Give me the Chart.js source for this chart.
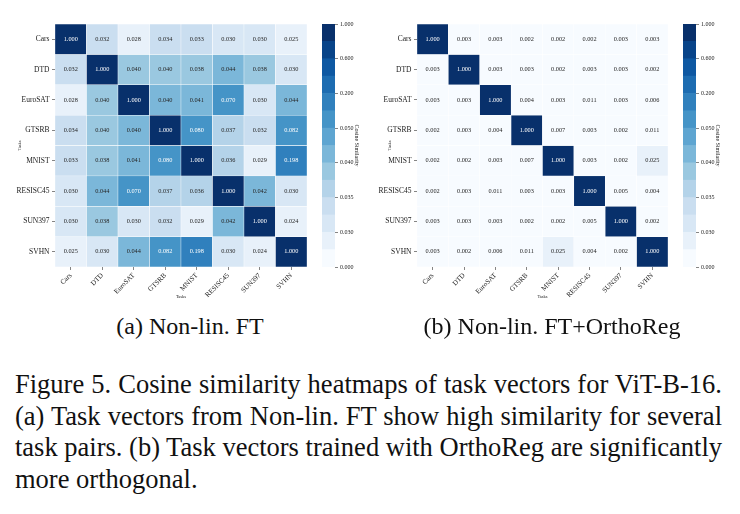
<!DOCTYPE html>
<html>
<head>
<meta charset="utf-8">
<script src="https://cdn.jsdelivr.net/npm/chart.js@4.4.1/dist/chart.umd.min.js"></script>
<style>
  html, body { margin: 0; padding: 0; background: #fff; }
  body { width: 740px; height: 514px; position: relative; overflow: hidden; font-family: 'Liberation Serif', 'Times New Roman', serif; color: #111; }
  canvas { position: absolute; top: 0; }
  .sub { position: absolute; top: 311px; font-size: 24px; line-height: 30px; white-space: nowrap; transform: translateX(-50%); }
  #caption { position: absolute; left: 15px; top: 369px; width: 707px; font-size: 26.5px; line-height: 31.5px; }
  #caption div { text-align: justify; text-align-last: justify; white-space: nowrap; }
  #caption div.last { text-align: left; text-align-last: left; }
</style>
</head>
<body>
<canvas id="heatA" width="320" height="310" style="left:0"></canvas>
<canvas id="barA" width="55" height="310" style="left:315px"></canvas>
<canvas id="heatB" width="310" height="310" style="left:370px"></canvas>
<canvas id="barB" width="64" height="310" style="left:676px"></canvas>
<div class="sub" style="left:190px">(a) Non-lin. FT</div>
<div class="sub" style="left:552px">(b) Non-lin. FT+OrthoReg</div>
<div id="caption">
  <div>Figure 5. Cosine similarity heatmaps of task vectors for ViT-B-16.</div>
  <div>(a) Task vectors from Non-lin. FT show high similarity for several</div>
  <div>task pairs. (b) Task vectors trained with OrthoReg are significantly</div>
  <div class="last">more orthogonal.</div>
</div>
<script>
const tasks = ['Cars', 'DTD', 'EuroSAT', 'GTSRB', 'MNIST', 'RESISC45', 'SUN397', 'SVHN'];

// (a) Non-lin. FT
const simNonLin = [
  [1.000, 0.032, 0.028, 0.034, 0.033, 0.030, 0.030, 0.025],
  [0.032, 1.000, 0.0398, 0.0398, 0.038, 0.044, 0.038, 0.030],
  [0.028, 0.0398, 1.000, 0.0403, 0.041, 0.070, 0.030, 0.044],
  [0.034, 0.0398, 0.0403, 1.000, 0.080, 0.037, 0.032, 0.082],
  [0.033, 0.038, 0.041, 0.080, 1.000, 0.036, 0.029, 0.198],
  [0.030, 0.044, 0.070, 0.037, 0.036, 1.000, 0.042, 0.030],
  [0.030, 0.038, 0.030, 0.032, 0.029, 0.042, 1.000, 0.024],
  [0.025, 0.030, 0.044, 0.082, 0.198, 0.030, 0.024, 1.000]
];

// (b) Non-lin. FT+OrthoReg
const simOrtho = [
  [1.000, 0.003, 0.003, 0.002, 0.002, 0.002, 0.003, 0.003],
  [0.003, 1.000, 0.003, 0.003, 0.002, 0.003, 0.003, 0.002],
  [0.003, 0.003, 1.000, 0.004, 0.003, 0.011, 0.003, 0.006],
  [0.002, 0.003, 0.004, 1.000, 0.007, 0.003, 0.002, 0.011],
  [0.002, 0.002, 0.003, 0.007, 1.000, 0.003, 0.002, 0.025],
  [0.002, 0.003, 0.011, 0.003, 0.003, 1.000, 0.005, 0.004],
  [0.003, 0.003, 0.003, 0.002, 0.002, 0.005, 1.000, 0.002],
  [0.003, 0.002, 0.006, 0.011, 0.025, 0.004, 0.002, 1.000]
];

// colour bin edges of the colorbar (every other one is labelled)
const cbarBounds = [0, 0.015, 0.030, 0.031, 0.035, 0.0375, 0.040, 0.045, 0.050, 0.125, 0.200, 0.400, 0.600, 0.800, 1.000];

// Blues, one colour per bin
const blues = [
  '#f7fbff', '#e8f1fa', '#d8e7f5', '#cadef0', '#b4d3e9', '#9ac8e0', '#7bb7d9',
  '#5ea5d1', '#4594c7', '#3080bd', '#1d6cb1', '#0e58a2', '#084489', '#08306b'
];

const serif = "'Liberation Serif', 'Times New Roman', serif";
const ink = '#1a1a1a';

const binOf = (v) => {
  for (let i = cbarBounds.length - 2; i >= 0; i--) {
    if (v >= cbarBounds[i]) return i;
  }
  return 0;
};

const cellText = {
  id: 'cellText',
  afterDatasetsDraw(chart, args, opts) {
    const { ctx } = chart;
    ctx.save();
    ctx.font = '6.3px ' + serif;
    ctx.textAlign = 'center';
    ctx.textBaseline = 'middle';
    opts.matrix.forEach((row, r) => {
      const meta = chart.getDatasetMeta(r);
      row.forEach((v, c) => {
        const bar = meta.data[c];
        ctx.fillStyle = binOf(v) >= 7 ? '#ffffff' : '#262626';
        ctx.fillText(v.toFixed(3), bar.x, (bar.y + bar.base) / 2);
      });
    });
    ctx.restore();
  }
};

const heatmap = (id, matrix, yWidth, padRight) => {
  new Chart(document.getElementById(id), {
    type: 'bar',
    data: {
      labels: tasks,
      datasets: matrix.map((row, r) => ({
        data: row.map(() => [r, r + 1]),
        backgroundColor: row.map((v) => blues[binOf(v)]),
        borderColor: '#ffffff',
        borderWidth: 0.5,
        borderSkipped: false,
        grouped: false,
        barPercentage: 1,
        categoryPercentage: 1
      }))
    },
    options: {
      responsive: false,
      animation: false,
      layout: { padding: { top: 24, right: padRight, bottom: 0, left: 0 } },
      plugins: {
        legend: { display: false },
        tooltip: { enabled: false },
        cellText: { matrix }
      },
      scales: {
        x: {
          border: { display: false },
          grid: { drawOnChartArea: false, drawTicks: true, tickLength: 3, color: '#333', lineWidth: 0.6, offset: false },
          ticks: { autoSkip: false, minRotation: 45, maxRotation: 45, padding: 1.5, color: ink, font: { family: serif, size: 7 } },
          title: { display: true, text: 'Tasks', color: ink, font: { family: serif, size: 4.5 }, padding: { top: 0, bottom: 10.3 } },
          afterFit(axis) {
            axis.height = 43;
            axis.paddingLeft = 0;
            axis.paddingRight = 0;
          }
        },
        y: {
          min: 0,
          max: 8,
          reverse: true,
          afterBuildTicks(axis) {
            axis.ticks = tasks.map((t, i) => ({ value: i + 0.5 }));
          },
          border: { display: false },
          grid: { drawOnChartArea: false, drawTicks: true, tickLength: 3, color: '#333', lineWidth: 0.6 },
          ticks: { callback: (v) => tasks[Math.floor(v)], padding: 2.5, color: ink, font: { family: serif, size: 7.5 } },
          title: { display: true, text: 'Tasks', color: ink, font: { family: serif, size: 4.5 }, padding: { top: 17.5, bottom: 0 } },
          afterFit(axis) {
            axis.width = yWidth;
            axis.paddingTop = 0;
            axis.paddingBottom = 0;
          }
        }
      }
    },
    plugins: [cellText]
  });
};

const colorbar = (id, axisWidth, titlePad) => {
  new Chart(document.getElementById(id), {
    type: 'bar',
    data: {
      labels: [''],
      datasets: blues.map((col, i) => ({
        data: [[i, i + 1]],
        backgroundColor: col,
        borderWidth: 0,
        grouped: false,
        barPercentage: 1,
        categoryPercentage: 1
      }))
    },
    options: {
      responsive: false,
      animation: false,
      layout: { padding: { top: 24, right: 0, bottom: 43, left: 7 } },
      plugins: { legend: { display: false }, tooltip: { enabled: false } },
      scales: {
        x: { display: false },
        y: {
          position: 'right',
          min: 0,
          max: cbarBounds.length - 1,
          afterBuildTicks(axis) {
            axis.ticks = cbarBounds.map((b, i) => i).filter((i) => i % 2 === 0).map((i) => ({ value: i }));
          },
          border: { display: false },
          grid: { drawOnChartArea: false, drawTicks: true, tickLength: 3, color: '#333', lineWidth: 0.6 },
          ticks: { callback: (v) => cbarBounds[v].toFixed(3), padding: 2, color: ink, font: { family: serif, size: 6 } },
          title: { display: true, text: 'Cosine Similarity', color: ink, font: { family: serif, size: 6 }, padding: { top: titlePad, bottom: 0 } },
          afterFit(axis) {
            axis.width = axisWidth;
            axis.paddingTop = 0;
            axis.paddingBottom = 0;
          }
        }
      }
    }
  });
};

heatmap('heatA', simNonLin, 55, 13);
colorbar('barA', 35, 9.5);
heatmap('heatB', simOrtho, 47, 12);
colorbar('barB', 44, 18.5);
</script>
</body>
</html>
